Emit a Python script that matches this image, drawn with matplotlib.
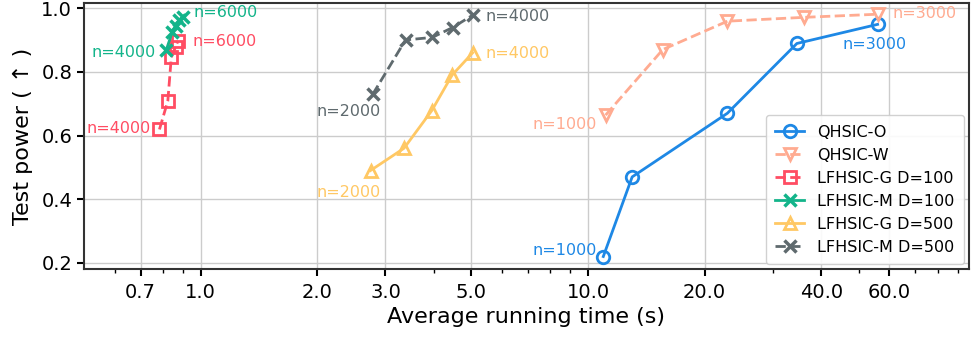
import matplotlib
matplotlib.use("Agg")
import matplotlib.pyplot as plt
from matplotlib.ticker import FixedLocator, FixedFormatter, NullFormatter

# running time (s) and test power for each method
qo_time = [10.95, 13.0, 22.9, 34.6, 55.9]
qo_power = [0.22, 0.47, 0.67, 0.889, 0.949]

qw_time = [11.1, 15.6, 22.9, 36.0, 56.2]
qw_power = [0.664, 0.87, 0.959, 0.971, 0.981]

g100_time = [0.783, 0.823, 0.840, 0.862, 0.874]
g100_power = [0.619, 0.709, 0.845, 0.879, 0.897]

m100_time = [0.815, 0.845, 0.862, 0.880, 0.900]
m100_power = [0.868, 0.925, 0.945, 0.962, 0.973]

g500_time = [2.745, 3.35, 3.95, 4.46, 5.04]
g500_power = [0.49, 0.56, 0.678, 0.79, 0.86]

m500_time = [2.78, 3.38, 3.96, 4.47, 5.04]
m500_power = [0.729, 0.90, 0.908, 0.939, 0.978]

xticks = [0.7, 1.0, 2.0, 3.0, 5.0, 10.0, 20.0, 40.0, 60.0]
xminor = [0.6, 0.8, 0.9, 4, 6, 7, 8, 9, 30, 50, 70, 80, 90]

c_blue = '#1e88e5'
c_salmon = '#ffab91'
c_red = '#ff4d63'
c_green = '#13b48a'
c_yellow = '#ffc864'
c_gray = '#5f6a6e'

fig = plt.figure(figsize=(9.71, 3.37), dpi=100)
ax = fig.add_axes([0.0865, 0.202, 0.911, 0.789])

kw = dict(lw=2, ms=9, mew=2, mfc='none')
ax.plot(qo_time, qo_power, '-', marker='o', color=c_blue, label='QHSIC-O', **kw)
ax.plot(qw_time, qw_power, '--', marker='v', color=c_salmon, label='QHSIC-W', **kw)
ax.plot(g100_time, g100_power, '--', marker='s', color=c_red, label='LFHSIC-G D=100', **kw)
ax.plot(m100_time, m100_power, '-', marker='x', color=c_green, label='LFHSIC-M D=100', lw=2, ms=9, mew=2.5)
ax.plot(g500_time, g500_power, '-', marker='^', color=c_yellow, label='LFHSIC-G D=500', **kw)
ax.plot(m500_time, m500_power, '--', marker='x', color=c_gray, label='LFHSIC-M D=500', lw=2, ms=9, mew=2.5)


def note(txt, x, y, dx, dy, color, ha):
    ax.annotate(txt, (x, y), xytext=(dx * 0.72, -dy * 0.72), textcoords='offset points',
                ha=ha, va='center', color=color, fontsize=11.5)


note('n=1000', qo_time[0], qo_power[0], -6, -6, c_blue, 'right')
note('n=3000', qo_time[-1], qo_power[-1], -3, 20, c_blue, 'center')
note('n=1000', qw_time[0], qw_power[0], -9, 9, c_salmon, 'right')
note('n=3000', qw_time[-1], qw_power[-1], 14, -1, c_salmon, 'left')
note('n=4000', g100_time[0], g100_power[0], -9, -1, c_red, 'right')
note('n=6000', g100_time[-1], g100_power[-1], 15, 1, c_red, 'left')
note('n=4000', m100_time[0], m100_power[0], -10, 2, c_green, 'right')
note('n=6000', m100_time[-1], m100_power[-1], 11, -4, c_green, 'left')
note('n=2000', g500_time[0], g500_power[0], 10, 22, c_yellow, 'right')
note('n=4000', g500_time[-1], g500_power[-1], 13, 1, c_yellow, 'left')
note('n=2000', m500_time[0], m500_power[0], 8, 17, c_gray, 'right')
note('n=4000', m500_time[-1], m500_power[-1], 13, 1, c_gray, 'left')

ax.set_xscale('log')
ax.set_xlim(0.5, 96)
ax.set_ylim(0.181, 1.016)
ax.xaxis.set_major_locator(FixedLocator(xticks))
ax.xaxis.set_major_formatter(FixedFormatter(['%.1f' % t for t in xticks]))
ax.xaxis.set_minor_locator(FixedLocator(xminor))
ax.xaxis.set_minor_formatter(NullFormatter())
ax.set_yticks([0.2, 0.4, 0.6, 0.8, 1.0])
ax.tick_params(labelsize=14, width=1.5, length=5)
ax.tick_params(axis='x', pad=5)
ax.tick_params(which='minor', length=3, width=1)
ax.grid(True, color='#cccccc', lw=1)
ax.set_axisbelow(True)
for s in ax.spines.values():
    s.set_color('#333333')
    s.set_linewidth(1.5)

ax.set_xlabel('Average running time (s)', fontsize=16, labelpad=4)
ax.set_ylabel('Test power ( ↑ )', fontsize=16, labelpad=6)
ax.legend(loc='lower right', fontsize=11.5, handlelength=1.8, borderaxespad=0.3,
          borderpad=0.6, labelspacing=0.5, framealpha=0.9)

fig.savefig('out.png', dpi=100)
